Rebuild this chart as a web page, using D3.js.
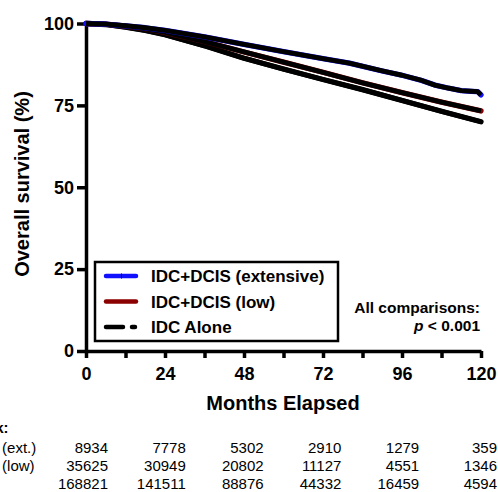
<!DOCTYPE html>
<html>
<head>
<meta charset="utf-8">
<script src="https://cdn.jsdelivr.net/npm/d3@7/dist/d3.min.js"></script>
<style>
  body { margin: 0; background: #fff; }
  svg text { font-family: Arial, "Liberation Sans", sans-serif; }
</style>
</head>
<body>
<svg id="chart" width="498" height="492"></svg>
<script>
// survival curves (months, %)
let extMonths = [0, 6, 12, 18, 24, 36, 48, 60, 72, 80, 90, 96, 102, 106, 110, 114, 117, 119, 120];
let extSurv   = [100, 99.8, 99.3, 98.7, 97.9, 95.9, 93.6, 91.4, 89.3, 87.9, 85.5, 84.2, 82.6, 81.2, 80.3, 79.5, 79.3, 79.2, 78.2];
let lowMonths = [0, 6, 12, 18, 24, 36, 48, 60, 72, 84, 96, 108, 120];
let lowSurv   = [100, 99.8, 99.2, 98.4, 97.3, 94.5, 91.3, 88.2, 85.1, 81.9, 78.9, 76.0, 73.3];
let idcMonths = [0, 6, 12, 18, 24, 36, 48, 60, 72, 84, 96, 108, 120];
let idcSurv   = [100, 99.7, 98.9, 97.9, 96.6, 93.2, 89.4, 86.1, 82.9, 79.8, 76.5, 73.2, 70.0];

let legendLabels = ["IDC+DCIS (extensive)", "IDC+DCIS (low)", "IDC Alone"];
let seriesColors = ["#1010ff", "#8b0000", "#000000"];

// numbers at risk
let riskMonths = [0, 24, 48, 72, 96, 120];
let riskLabels = ["IDC+DCIS (ext.)", "IDC+DCIS (low)", "IDC Alone"];
let riskExt = [8934, 7778, 5302, 2910, 1279, 359];
let riskLow = [35625, 30949, 20802, 11127, 4551, 1346];
let riskIdc = [168821, 141511, 88876, 44332, 16459, 4594];

let xTicks = [0, 12, 24, 36, 48, 60, 72, 84, 96, 108, 120];
let yTicks = [0, 25, 50, 75, 100];

let svg = d3.select("#chart");

let x = d3.scaleLinear().domain([0, 120]).range([86, 481]);
let y = d3.scaleLinear().domain([0, 100]).range([351, 23.5]);

//axes
let xAxis = d3.axisBottom(x)
    .tickValues(xTicks)
    .tickFormat((d) => d % 24 === 0 ? d : "")
    .tickSize(7)
    .tickSizeOuter(0)
    .tickPadding(9);

let yAxis = d3.axisLeft(y)
    .tickValues(yTicks)
    .tickSize(9)
    .tickSizeOuter(0)
    .tickPadding(3);

let gx = svg.append("g")
    .attr("transform", "translate(0," + y(0) + ")")
    .call(xAxis);

let gy = svg.append("g")
    .attr("transform", "translate(" + x(0) + ",0)")
    .call(yAxis);

[gx, gy].forEach((g) => {
    g.selectAll("path, line")
        .attr("stroke", "#000")
        .attr("stroke-width", 3.5);
    g.selectAll("text")
        .attr("fill", "#000")
        .style("font-size", "18px")
        .style("font-weight", "bold");
});

// axis titles
svg.append("text")
    .attr("x", 283)
    .attr("y", 410)
    .attr("text-anchor", "middle")
    .style("font-size", "20px")
    .style("font-weight", "bold")
    .text("Months Elapsed");

svg.append("text")
    .attr("transform", "translate(29,184) rotate(-90)")
    .attr("text-anchor", "middle")
    .style("font-size", "20px")
    .style("font-weight", "bold")
    .text("Overall survival (%)");

// curves
let line = d3.line()
    .x((d) => x(d[0]))
    .y((d) => y(d[1]));

let curves = [
    d3.zip(extMonths, extSurv),
    d3.zip(lowMonths, lowSurv),
    d3.zip(idcMonths, idcSurv)
];

let curveG = svg.append("g");
// bottom curve first so the upper ones sit on top; black stroke over a thin coloured rim
[2, 1, 0].forEach((i) => {
    curveG.append("path")
        .datum(curves[i])
        .attr("fill", "none")
        .attr("stroke", seriesColors[i])
        .attr("stroke-width", 5.3)
        .attr("stroke-linejoin", "round")
        .attr("stroke-linecap", "round")
        .attr("d", line);
    curveG.append("path")
        .datum(curves[i])
        .attr("fill", "none")
        .attr("stroke", "#000")
        .attr("stroke-width", 4.9)
        .attr("stroke-linejoin", "round")
        .attr("d", line);
});

// legend
let legend = svg.append("g");
legend.append("rect")
    .attr("x", 95)
    .attr("y", 262)
    .attr("width", 243)
    .attr("height", 79)
    .attr("fill", "#fff")
    .attr("stroke", "#000")
    .attr("stroke-width", 2.5);

legendLabels.forEach((label, i) => {
    let cy = 276 + i * 25.5;
    if (i < 2) {
        legend.append("line")
            .attr("x1", 106).attr("x2", 136)
            .attr("y1", cy).attr("y2", cy)
            .attr("stroke", seriesColors[i])
            .attr("stroke-width", 4.5)
            .attr("stroke-linecap", "round");
    } else {
        legend.append("line")
            .attr("x1", 106).attr("x2", 136)
            .attr("y1", cy).attr("y2", cy)
            .attr("stroke", "#000")
            .attr("stroke-width", 4.5)
            .attr("stroke-linecap", "round")
            .attr("stroke-dasharray", "17,9,3,20");
    }
    if (i === 0) {
        legend.append("line")
            .attr("x1", 121.5).attr("x2", 121.5)
            .attr("y1", cy - 2.5).attr("y2", cy + 2.5)
            .attr("stroke", "#000")
            .attr("stroke-width", 1);
    }
    legend.append("text")
        .attr("x", 151)
        .attr("y", cy + 6)
        .style("font-size", "17px")
        .style("font-weight", "bold")
        .text(label);
});

// p value note
svg.append("text")
    .attr("x", 480)
    .attr("y", 313)
    .attr("text-anchor", "end")
    .style("font-size", "15.5px")
    .style("font-weight", "bold")
    .text("All comparisons:");

let pText = svg.append("text")
    .attr("x", 480)
    .attr("y", 331)
    .attr("text-anchor", "end")
    .style("font-size", "15.5px")
    .style("font-weight", "bold");
pText.append("tspan").style("font-style", "italic").text("p");
pText.append("tspan").text(" < 0.001");

// numbers at risk table (left part runs off the page, as in the original)
let col = d3.scaleLinear().domain([0, 120]).range([108, 497]);

svg.append("text")
    .attr("x", -69)
    .attr("y", 433)
    .style("font-size", "15px")
    .style("font-weight", "bold")
    .text("No. at risk:");

let riskRows = [riskExt, riskLow, riskIdc];
riskRows.forEach((row, r) => {
    let by = 453 + r * 18;
    svg.append("text")
        .attr("x", -72.5)
        .attr("y", by)
        .style("font-size", "15px")
        .text(riskLabels[r]);
    svg.append("g")
        .selectAll("text")
        .data(row)
        .enter()
        .append("text")
        .attr("x", (d, i) => col(riskMonths[i]))
        .attr("y", by)
        .attr("text-anchor", "end")
        .style("font-size", "15px")
        .text((d) => d);
});
</script>
</body>
</html>
